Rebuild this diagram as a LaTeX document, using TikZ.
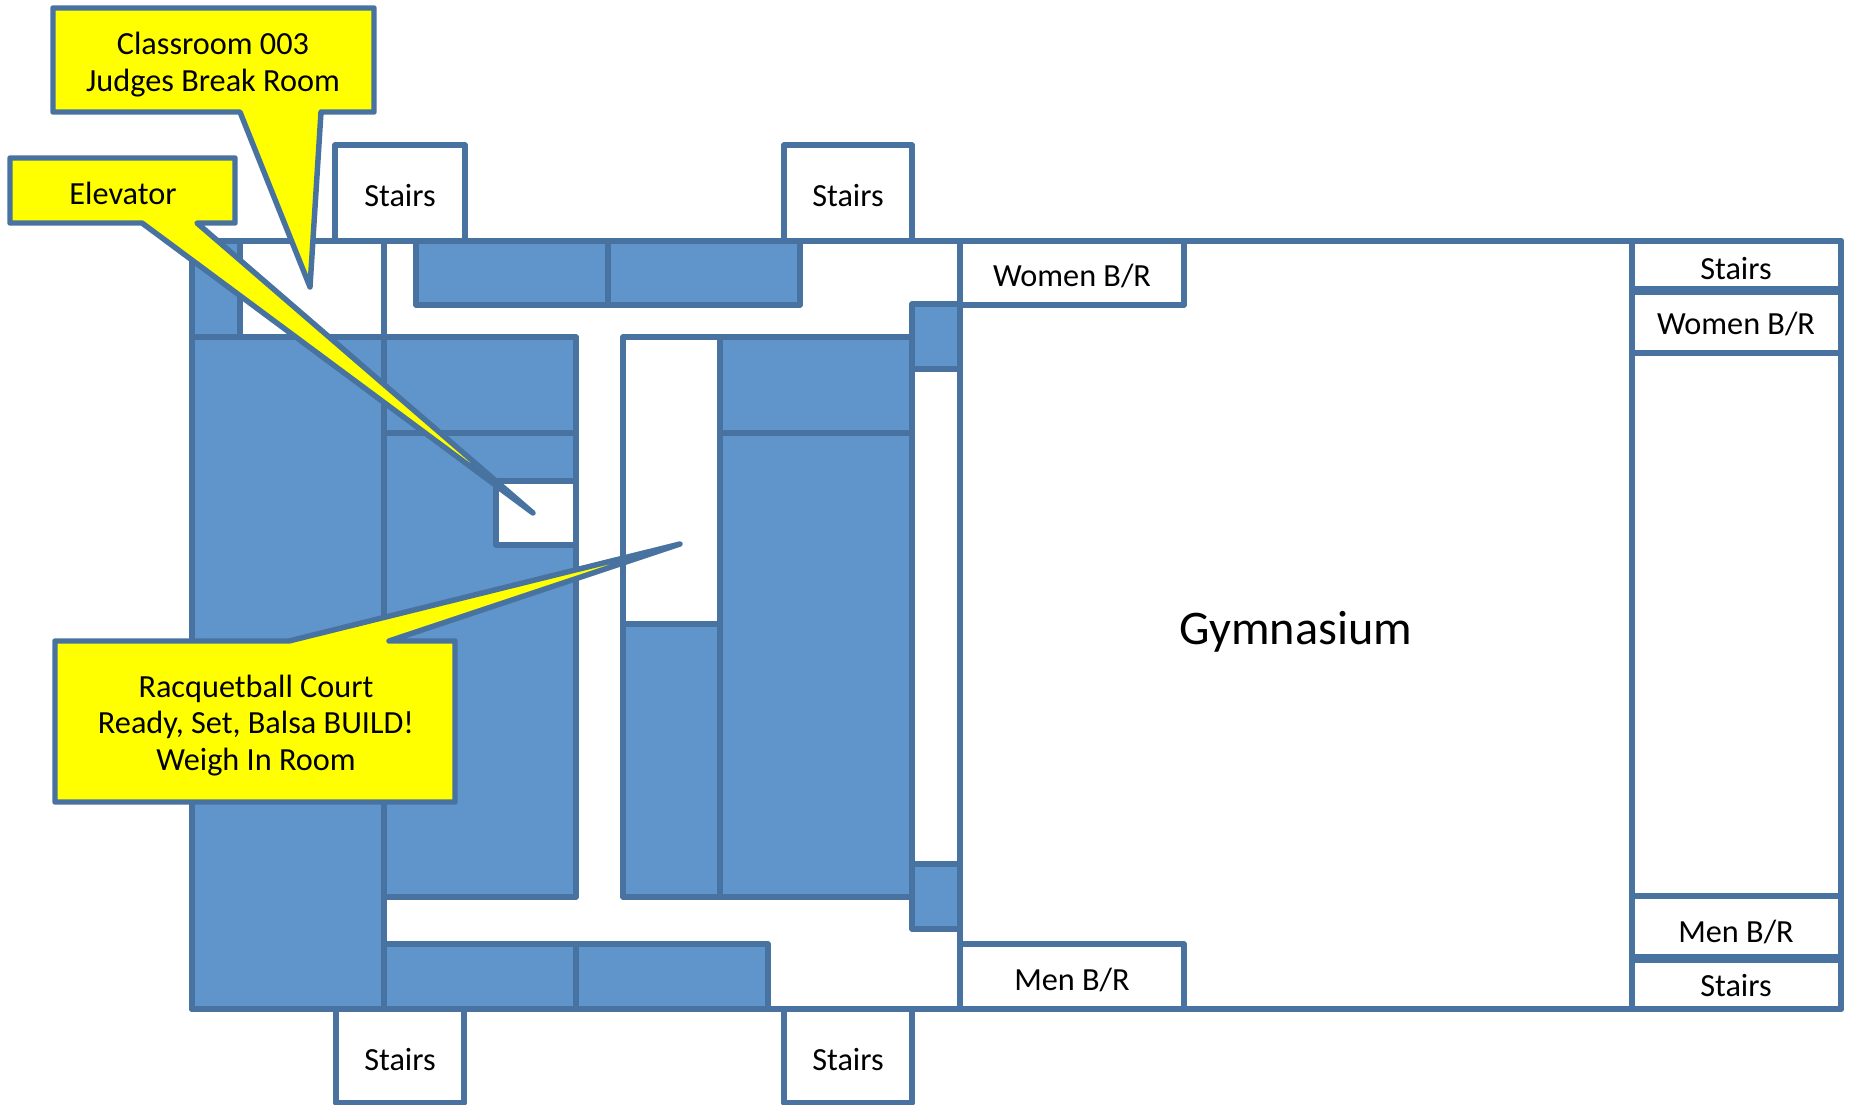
\documentclass[tikz,border=0pt]{standalone}
\usepackage{fontspec}
\setmainfont{Carlito}
\definecolor{wallblue}{HTML}{4873A1}
\definecolor{roomblue}{HTML}{5F95CA}
\definecolor{noteyellow}{HTML}{FFFF00}
\tikzset{
	every picture/.style={line width=4.1pt},
	wall/.style={draw=wallblue,line width=4.1pt,line join=round},
	room/.style={wall,fill=white},
	bluerm/.style={wall,fill=roomblue},
	callout/.style={wall,fill=noteyellow},
	lbl/.style={font=\fontsize{24.2}{27.6}\selectfont,align=center,inner sep=0pt},
}
\begin{document}
\begin{tikzpicture}[x=0.75pt,y=0.75pt,yscale=-1,xscale=1]
	\useasboundingbox (0,0) rectangle (1849,1105);

	%Building outline
	\draw [room] (192,241) rectangle (1841,1009);
	%Stairs boxes
	\draw [room] (335,145) rectangle (465,241);
	\draw [room] (784,145) rectangle (912,241);
	\draw [room] (336,1009) rectangle (464,1103);
	\draw [room] (784,1009) rectangle (912,1103);

	%West blue rooms
	\draw [bluerm] (192,241) rectangle (240,337);
	\draw [bluerm] (192,337) rectangle (384,1009);
	\draw [wall] (384,241) -- (384,337);
	\draw [bluerm] (384,337) rectangle (576,433);
	\draw [bluerm] (384,433) rectangle (576,897);
	\draw [room] (496,481) rectangle (576,545);
	%North and south blue rooms
	\draw [bluerm] (416,241) rectangle (608,305);
	\draw [bluerm] (608,241) rectangle (800,305);
	\draw [bluerm] (384,944) rectangle (576,1009);
	\draw [bluerm] (576,944) rectangle (768,1009);
	%Center rooms
	\draw [room] (623,337) rectangle (720,624);
	\draw [bluerm] (623,624) rectangle (720,897);
	\draw [bluerm] (720,337) rectangle (912,433);
	\draw [bluerm] (720,433) rectangle (912,897);
	\draw [bluerm] (912,304) rectangle (960,369);
	\draw [bluerm] (912,864) rectangle (960,929);

	%Gymnasium side
	\draw [wall] (960,241) -- (960,1009);
	\draw [room] (960,241) rectangle (1184,305);
	\draw [room] (960,944) rectangle (1184,1009);
	\draw [wall] (1632,241) -- (1632,1009);
	\draw [room] (1632,241) rectangle (1841,289);
	\draw [room] (1632,292) rectangle (1841,353);
	\draw [room] (1632,896) rectangle (1841,957);
	\draw [room] (1632,960) rectangle (1841,1009);

	%Callouts
	\draw [callout] (53,8) -- (374,8) -- (374,112) -- (321,112) -- (310,287) -- (240,112) -- (53,112) -- cycle;
	\draw [callout] (10,158) -- (235,158) -- (235,223) -- (197,223) -- (533,513) -- (142,223) -- (10,223) -- cycle;
	\draw [callout] (55,641) -- (289,641) -- (680,544) -- (389,641) -- (455,641) -- (455,802) -- (55,802) -- cycle;

	% Text Node
	\node [lbl] (stairsnw) at (400,196) {Stairs};
	\node [lbl] (stairsne) at (848,196) {Stairs};
	\node [lbl] (stairssw) at (400,1060) {Stairs};
	\node [lbl] (stairsse) at (848,1060) {Stairs};
	\node [lbl] (womenw) at (1072,276) {Women B/R};
	\node [lbl] (menw) at (1072,980) {Men B/R};
	\node [lbl] (stairse) at (1736,269) {Stairs};
	\node [lbl] (women) at (1736,324) {Women B/R};
	\node [lbl] (men) at (1736,932) {Men B/R};
	\node [lbl] (stairsb) at (1736,986) {Stairs};
	\node [lbl,font=\fontsize{36.2}{40}\selectfont] (gym) at (1296,632) {Gymnasium};
	% Callout text
	\node [lbl] (classrm) at (213,64.5) {Classroom 003\\Judges Break Room};
	\node [lbl] (elev) at (123,193) {Elevator};
	\node [lbl] (court) at (256,725.5) {Racquetball Court\\Ready, Set, Balsa BUILD!\\Weigh In Room};
\end{tikzpicture}
\end{document}
